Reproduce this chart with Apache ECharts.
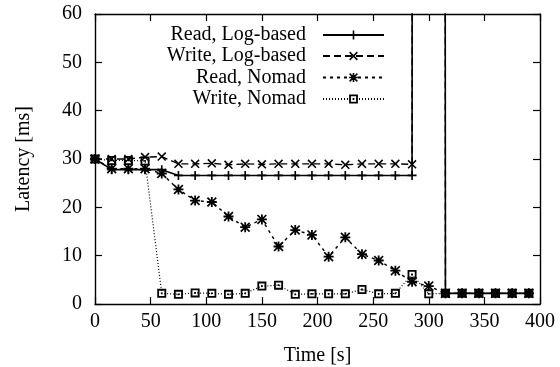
<!DOCTYPE html>
<html>
<head>
<meta charset="utf-8">
<script src="https://cdn.jsdelivr.net/npm/echarts@6/dist/echarts.min.js"></script>
<style>
html,body{margin:0;padding:0;background:#fff;}
#chart{width:560px;height:367px;}
</style>
</head>
<body>
<div id="chart"></div>
<script>
// ---- data ----
const times = [0,15,30,45,60,75,90,105,120,135,150,165,180,195,210,225,240,255,270,285,300,315,330,345,360,375,390];
const seriesNames = ['Read, Log-based','Write, Log-based','Read, Nomad','Write, Nomad'];
const readLog   = [30,27.8,27.8,27.8,27.8,26.6,26.6,26.6,26.6,26.6,26.6,26.6,26.6,26.6,26.6,26.6,26.6,26.6,26.6,26.6,5000,2.2,2.2,2.2,2.2,2.2,2.2];
const writeLog  = [30,30,30,30.4,30.5,29.0,29.0,29.1,28.8,29.0,28.9,29.0,29.0,29.0,29.0,28.8,29.0,29.0,29.0,28.9,5000,2.2,2.2,2.2,2.2,2.2,2.2];
const readNomad = [30,28,28,28,27.0,23.7,21.4,21.1,18.1,15.9,17.5,11.9,15.3,14.3,9.8,13.8,10.3,9.0,6.9,4.6,3.7,2.2,2.2,2.2,2.2,2.2,2.2];
const writeNomad= [30,29.7,29.7,29.6,2.2,2.0,2.3,2.2,2.0,2.2,3.7,3.9,2.0,2.1,2.1,2.1,3.0,2.1,2.2,6.1,2.1,2.2,2.2,2.2,2.2,2.2,2.2];
const xTicks = {min:0, max:400, interval:50};
const yTicks = {min:0, max:60, interval:10};

// ---- symbols ----
const PLUS  = 'M4.1,0H5.9V4.1H10V5.9H5.9V10H4.1V5.9H0V4.1H4.1Z';
const CROSS = 'M0,1.2L1.2,0L10,8.8L8.8,10Z M8.8,0L10,1.2L1.2,10L0,8.8Z';
const symPlus = 'path://' + PLUS;
const symCross = 'path://' + CROSS;
const symStar = 'path://' + PLUS + ' ' + CROSS;
const symBox = 'path://M0,0H10V10H0Z M2,2V8H8V2Z M4,4H6V6H4Z';

const FONT = "'Liberation Serif','Times New Roman',serif";
const FS = 20;

function pairs(vals){ return times.map((t,i)=>[t, vals[i]]); }

const styles = [
  {data: readLog,   symbol: symPlus,  size: 9, dash: 'solid', width: 1.6},
  {data: writeLog,  symbol: symCross, size: 9, dash: [7,4],   width: 1.4},
  {data: readNomad, symbol: symStar,  size: 10, dash: [3,4],  width: 1.4},
  {data: writeNomad,symbol: symBox,   size: 9, dash: [1,2],   width: 1.2}
];

const series = styles.map((s,i)=>({
  name: seriesNames[i],
  type: 'line',
  data: pairs(s.data),
  symbol: s.symbol,
  symbolSize: s.size,
  showAllSymbol: true,
  clip: true,
  itemStyle: {color: '#000', borderWidth: 0},
  lineStyle: {color: '#000', width: s.width, type: s.dash},
  emphasis: {disabled: true},
  z: 2 + i
}));

const legendCenters = [33, 54, 75.5, 97];
const legends = seriesNames.map((n,i)=>({
  data: [n],
  orient: 'vertical',
  align: 'right',
  right: 175,
  top: legendCenters[i] - 8,
  padding: 0,
  itemWidth: 61,
  itemHeight: 11,
  selectedMode: false,
  textStyle: {fontFamily: FONT, fontSize: FS, color: '#000', padding: [0, 12, 0, 0]}
}));

const axisCommon = {
  type: 'value',
  axisLine: {show: true, onZero: false, lineStyle: {color: '#000', width: 1.4}},
  axisTick: {show: true, inside: true, length: 7, lineStyle: {color: '#000', width: 1.2}},
  splitLine: {show: false},
  axisLabel: {fontFamily: FONT, fontSize: FS, color: '#000'}
};

const option = {
  animation: false,
  backgroundColor: '#fff',
  grid: {left: 95, right: 20, top: 14, bottom: 63, show: false, containLabel: false, outerBoundsMode: 'none'},
  legend: legends,
  xAxis: [
    Object.assign({}, axisCommon, xTicks, {
      position: 'bottom',
      name: 'Time [s]', nameLocation: 'middle', nameGap: 42,
      nameTextStyle: {fontFamily: FONT, fontSize: FS, color: '#000'},
      axisLabel: {fontFamily: FONT, fontSize: FS, color: '#000', margin: 8}
    }),
    Object.assign({}, axisCommon, xTicks, {position: 'top', axisLabel: {show: false}})
  ],
  yAxis: [
    Object.assign({}, axisCommon, yTicks, {
      position: 'left',
      name: 'Latency [ms]', nameLocation: 'middle', nameGap: 61,
      nameTextStyle: {fontFamily: FONT, fontSize: FS, color: '#000'},
      axisLabel: {fontFamily: FONT, fontSize: FS, color: '#000', margin: 13}
    }),
    Object.assign({}, axisCommon, yTicks, {position: 'right', axisLabel: {show: false}})
  ],
  series: series
};

const chart = echarts.init(document.getElementById('chart'), null, {renderer: 'canvas'});
chart.setOption(option);
</script>
</body>
</html>
